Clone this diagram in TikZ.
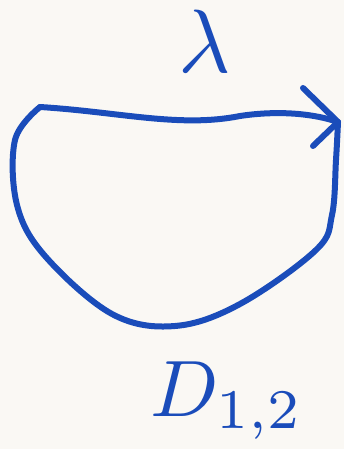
\documentclass[tikz,border=0pt]{standalone}
\usepackage{amsmath}
\usepackage{amssymb}
\usepackage{tikz}

\definecolor{inkblue}{RGB}{26,76,186}
\definecolor{paper}{RGB}{250,248,244}

\tikzset{ink/.style={inkblue,line width=6pt,line cap=round,line join=round},
    bigtext/.style={inkblue,inner sep=0pt,anchor=base west}}

\begin{document}
\begin{tikzpicture}[x=1pt,y=-1pt]
    % Page with the reference margins
    \fill[paper] (0,0) rectangle (344,449);
    \useasboundingbox (0,0) rectangle (344,449);

    % Corners of the loop
    \coordinate (L) at (40,107);
    \coordinate (R) at (338,122);
    \coordinate (B) at (175,326);

    % Top edge, left to right
    \draw[ink] (L) .. controls (120,112) and (180,128) .. (240,116)
        .. controls (280,110) and (315,114) .. (R);

    % Rest of the loop, round the bottom
    \draw[ink] plot[smooth,tension=0.6] coordinates {(R) (336,160) (332,215)
        (316,250) (240,304) (B) (112,314) (45,256) (17,205) (15,140) (L)};

    % Arrow head on the top edge
    \draw[ink] (303,88) -- (R) -- (313,146);

    % Labels
    \node[bigtext] (lam) at (178,73) {\scalebox{9}{$\lambda$}};
    \node[bigtext] (D) at (150,416) {\scalebox{8}{$D_{1,2}$}};
\end{tikzpicture}
\end{document}
